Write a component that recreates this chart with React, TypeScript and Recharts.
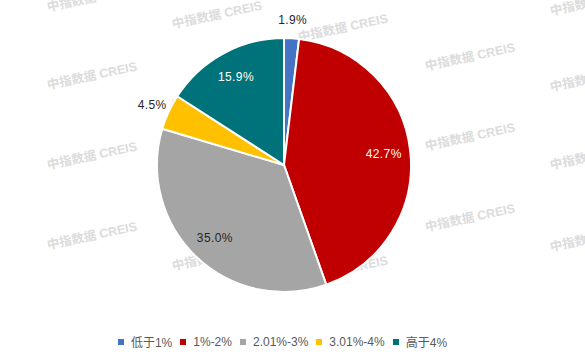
import { Cell, Legend, Pie, PieChart } from 'recharts';

const CATEGORIES = ['低于1%', '1%-2%', '2.01%-3%', '3.01%-4%', '高于4%'];
const SHARES = [1.9, 42.7, 35.0, 4.5, 15.9];

const COLORS = ['#4472C4', '#C00000', '#A5A5A5', '#FFC000', '#00727A'];
const LABEL_COLORS = ['#262626', '#ffffff', '#262626', '#262626', '#ffffff'];
const FONT = '"Liberation Sans", "Noto Sans CJK SC", sans-serif';

// watermark tile centres (decoration only)
const WATERMARKS: Array<[number, number]> = [
  [92, -2], [92, 76], [92, 156], [92, 236],
  [217, 15], [217, 95], [217, 176], [217, 257],
  [343, 28], [343, 108], [343, 189], [343, 270],
  [470, 57], [470, 137], [470, 218],
  [595, 2], [595, 78], [595, 156], [595, 238]
];

const data = CATEGORIES.map((name, i) => ({ name, value: SHARES[i] }));

const RAD = Math.PI / 180;

function renderLabel(props: any) {
  const { cx, cy, midAngle, outerRadius, percent, index, value } = props;
  const outside = percent < 0.05;
  const r = outside ? outerRadius + 18 : outerRadius * 0.79;
  const x = cx + r * Math.cos(-midAngle * RAD);
  const y = cy + r * Math.sin(-midAngle * RAD);
  return (
    <text
      x={x}
      y={y}
      textAnchor="middle"
      dominantBaseline="central"
      fill={outside ? '#262626' : LABEL_COLORS[index]}
      fontSize={12}
      letterSpacing={0.4}
      fontFamily={FONT}
    >
      {`${Number(value).toFixed(1)}%`}
    </text>
  );
}

function ChartLegend() {
  return (
    <div style={{ display: 'flex', justifyContent: 'center', gap: 8, fontFamily: FONT, fontSize: 12, color: '#595959' }}>
      {CATEGORIES.map((name, i) => (
        <span key={name} style={{ display: 'flex', alignItems: 'center' }}>
          <span style={{ width: 6, height: 6, background: COLORS[i], marginRight: 7 }} />
          {name}
        </span>
      ))}
    </div>
  );
}

export default function App() {
  return (
    <div style={{ position: 'relative', width: 585, height: 363, background: '#fff' }}>
      <style>{'body { margin: 0; }'}</style>
      <svg width={585} height={363} style={{ position: 'absolute', left: 0, top: 0 }}>
        {WATERMARKS.map(([x, y], i) => (
          <text
            key={i}
            x={x}
            y={y}
            textAnchor="middle"
            dominantBaseline="central"
            transform={`rotate(-12 ${x} ${y})`}
            fill="#dcdcdc"
            fontSize={12.5}
            fontWeight="bold"
            fontFamily={FONT}
          >
            中指数据 CREIS
          </text>
        ))}
      </svg>
      <div style={{ position: 'absolute', left: 0, top: 0 }}>
        <PieChart width={585} height={363} margin={{ top: 0, right: 0, bottom: 0, left: 0 }}>
          <Pie
            data={data}
            dataKey="value"
            nameKey="name"
            cx={284}
            cy={165}
            outerRadius={127}
            startAngle={90}
            endAngle={-270}
            stroke="#ffffff"
            strokeWidth={2}
            label={renderLabel}
            labelLine={false}
            isAnimationActive={false}
          >
            {data.map((d, i) => (
              <Cell key={d.name} fill={COLORS[i]} />
            ))}
          </Pie>
          <Legend
            content={() => <ChartLegend />}
            wrapperStyle={{ position: 'absolute', left: -10, top: 333, width: 585 }}
          />
        </PieChart>
      </div>
    </div>
  );
}
